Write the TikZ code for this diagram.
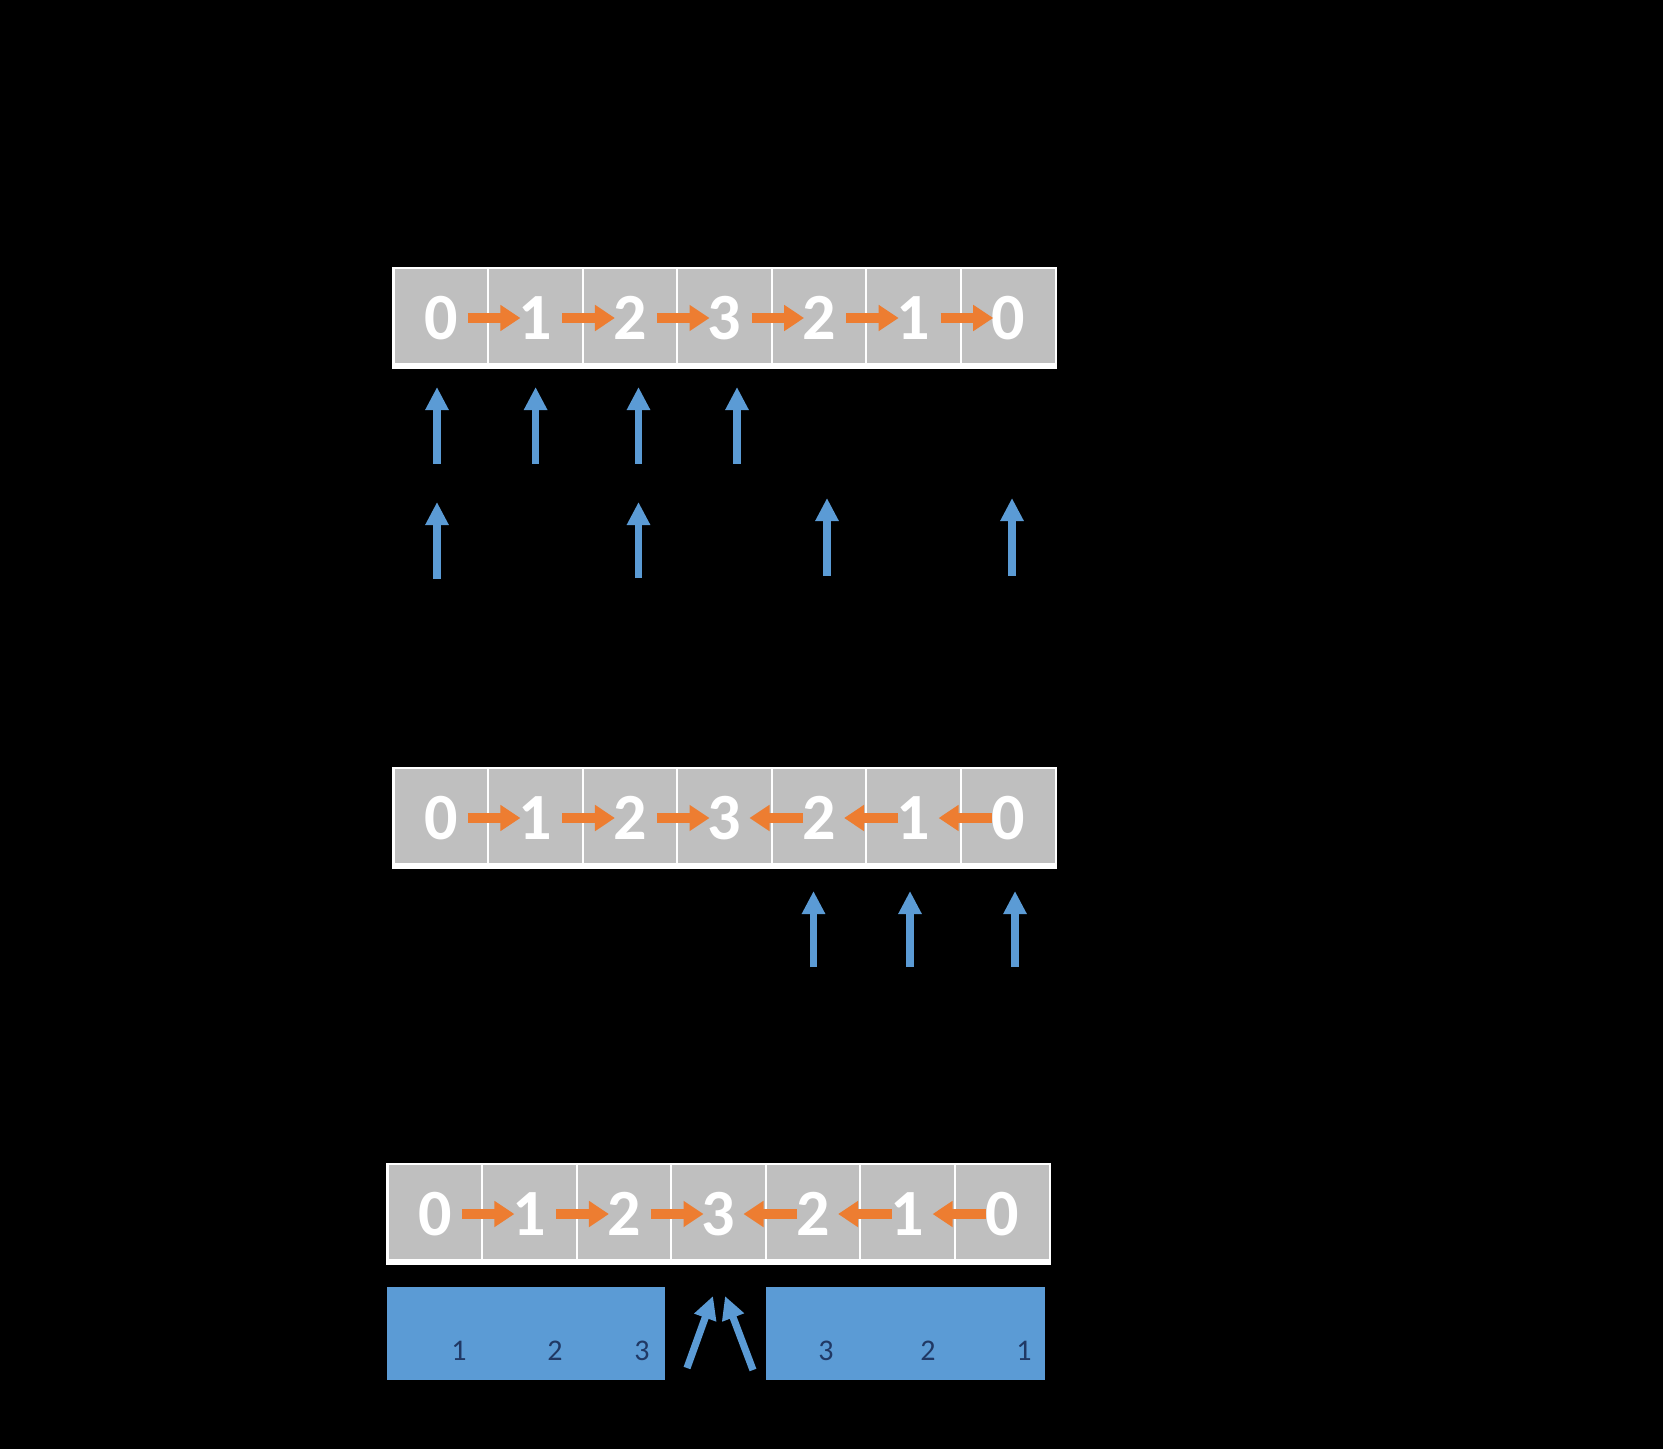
\documentclass[tikz,border=0pt]{standalone}
\usepackage{fontspec}
\setmainfont{Carlito}
\usetikzlibrary{arrows.meta}
\definecolor{cellgray}{HTML}{BFBFBF}
\definecolor{orng}{HTML}{ED7D31}
\definecolor{blu}{HTML}{5B9BD5}
\definecolor{navy}{HTML}{203864}
\newcommand\mkarray[4]{% #1 prefix, #2 left, #3 top, #4 unused
  \fill[white] (#2,#3) rectangle ++(665,102);
  \foreach \d [count=\i from 0] in {0,1,2,3,2,1,0} {
    \fill[cellgray] ({#2+1.5+\i*94.57+1},{#3+2}) rectangle ({#2+1.5+(\i+1)*94.57-1},{#3+96});
    \node[digit] (#1\i) at ({#2+1.5+(\i+0.5)*94.57},{#3+51}) {\d};
  }
}
\begin{document}
\begin{tikzpicture}[x=0.5pt,y=-0.5pt,
  digit/.style={text=white, font=\fontsize{33}{33}\selectfont\bfseries, inner sep=0pt},
  oarrow/.style={draw=orng, line width=5pt, -{Triangle[width=12.5pt,length=10pt]}},
  barrow/.style={draw=blu, line width=3.6pt, -{Triangle[width=11pt,length=11.5pt]}},
  bbox/.style={fill=blu, draw=none},
  blabel/.style={text=navy, font=\fontsize{15}{15}\selectfont, inner sep=0pt}
]
\fill[black] (0,0) rectangle (1663,1449);
\useasboundingbox (0,0) rectangle (1663,1449);

% ---------- array 1 ----------
\mkarray{a}{392}{267}{}
\foreach \i/\j in {0/1,1/2,2/3,3/4,4/5,5/6}
  \draw[oarrow] ([shift={(27,0)}]a\i.center) -- ([shift={(-15,0)}]a\j.center);

% blue arrows row A
\foreach \n/\x in {1/437,2/535.6,3/638.5,4/737} {
  \coordinate (pa\n) at (\x,463.5);
  \coordinate (qa\n) at (\x,387);
  \draw[barrow] (pa\n) -- (qa\n);
}
% blue arrows row B
\foreach \n/\x/\b/\t in {1/437/579/502,2/638.5/578/502,3/827/576/498,4/1012/576/498} {
  \coordinate (pb\n) at (\x,\b);
  \coordinate (qb\n) at (\x,\t);
  \draw[barrow] (pb\n) -- (qb\n);
}

% ---------- array 2 ----------
\mkarray{b}{392}{767}{}
\foreach \i/\j in {0/1,1/2,2/3}
  \draw[oarrow] ([shift={(27,0)}]b\i.center) -- ([shift={(-15,0)}]b\j.center);
\foreach \i/\j in {3/4,4/5,5/6}
  \draw[oarrow] ([shift={(-16,0)}]b\j.center) -- ([shift={(25,0)}]b\i.center);

\foreach \n/\x in {1/813.5,2/910,3/1015} {
  \coordinate (pc\n) at (\x,967);
  \coordinate (qc\n) at (\x,891);
  \draw[barrow] (pc\n) -- (qc\n);
}

% ---------- array 3 ----------
\mkarray{c}{386}{1163}{}
\foreach \i/\j in {0/1,1/2,2/3}
  \draw[oarrow] ([shift={(27,0)}]c\i.center) -- ([shift={(-15,0)}]c\j.center);
\foreach \i/\j in {3/4,4/5,5/6}
  \draw[oarrow] ([shift={(-16,0)}]c\j.center) -- ([shift={(25,0)}]c\i.center);

% blue boxes
\fill[bbox] (387,1287) rectangle (665,1380);
\fill[bbox] (766,1287) rectangle (1045,1380);
\node[blabel] (l1) at (459,1351) {1};
\node[blabel] (l2) at (555,1351) {2};
\node[blabel] (l3) at (642,1351) {3};
\node[blabel] (r3) at (826,1351) {3};
\node[blabel] (r2) at (928,1351) {2};
\node[blabel] (r1) at (1024,1351) {1};

% diagonal arrows
\coordinate (dl0) at (687,1368);
\coordinate (dl1) at (713,1296);
\coordinate (dr0) at (753,1370);
\coordinate (dr1) at (725,1296);
\draw[barrow] (dl0) -- (dl1);
\draw[barrow] (dr0) -- (dr1);
\end{tikzpicture}
\end{document}
